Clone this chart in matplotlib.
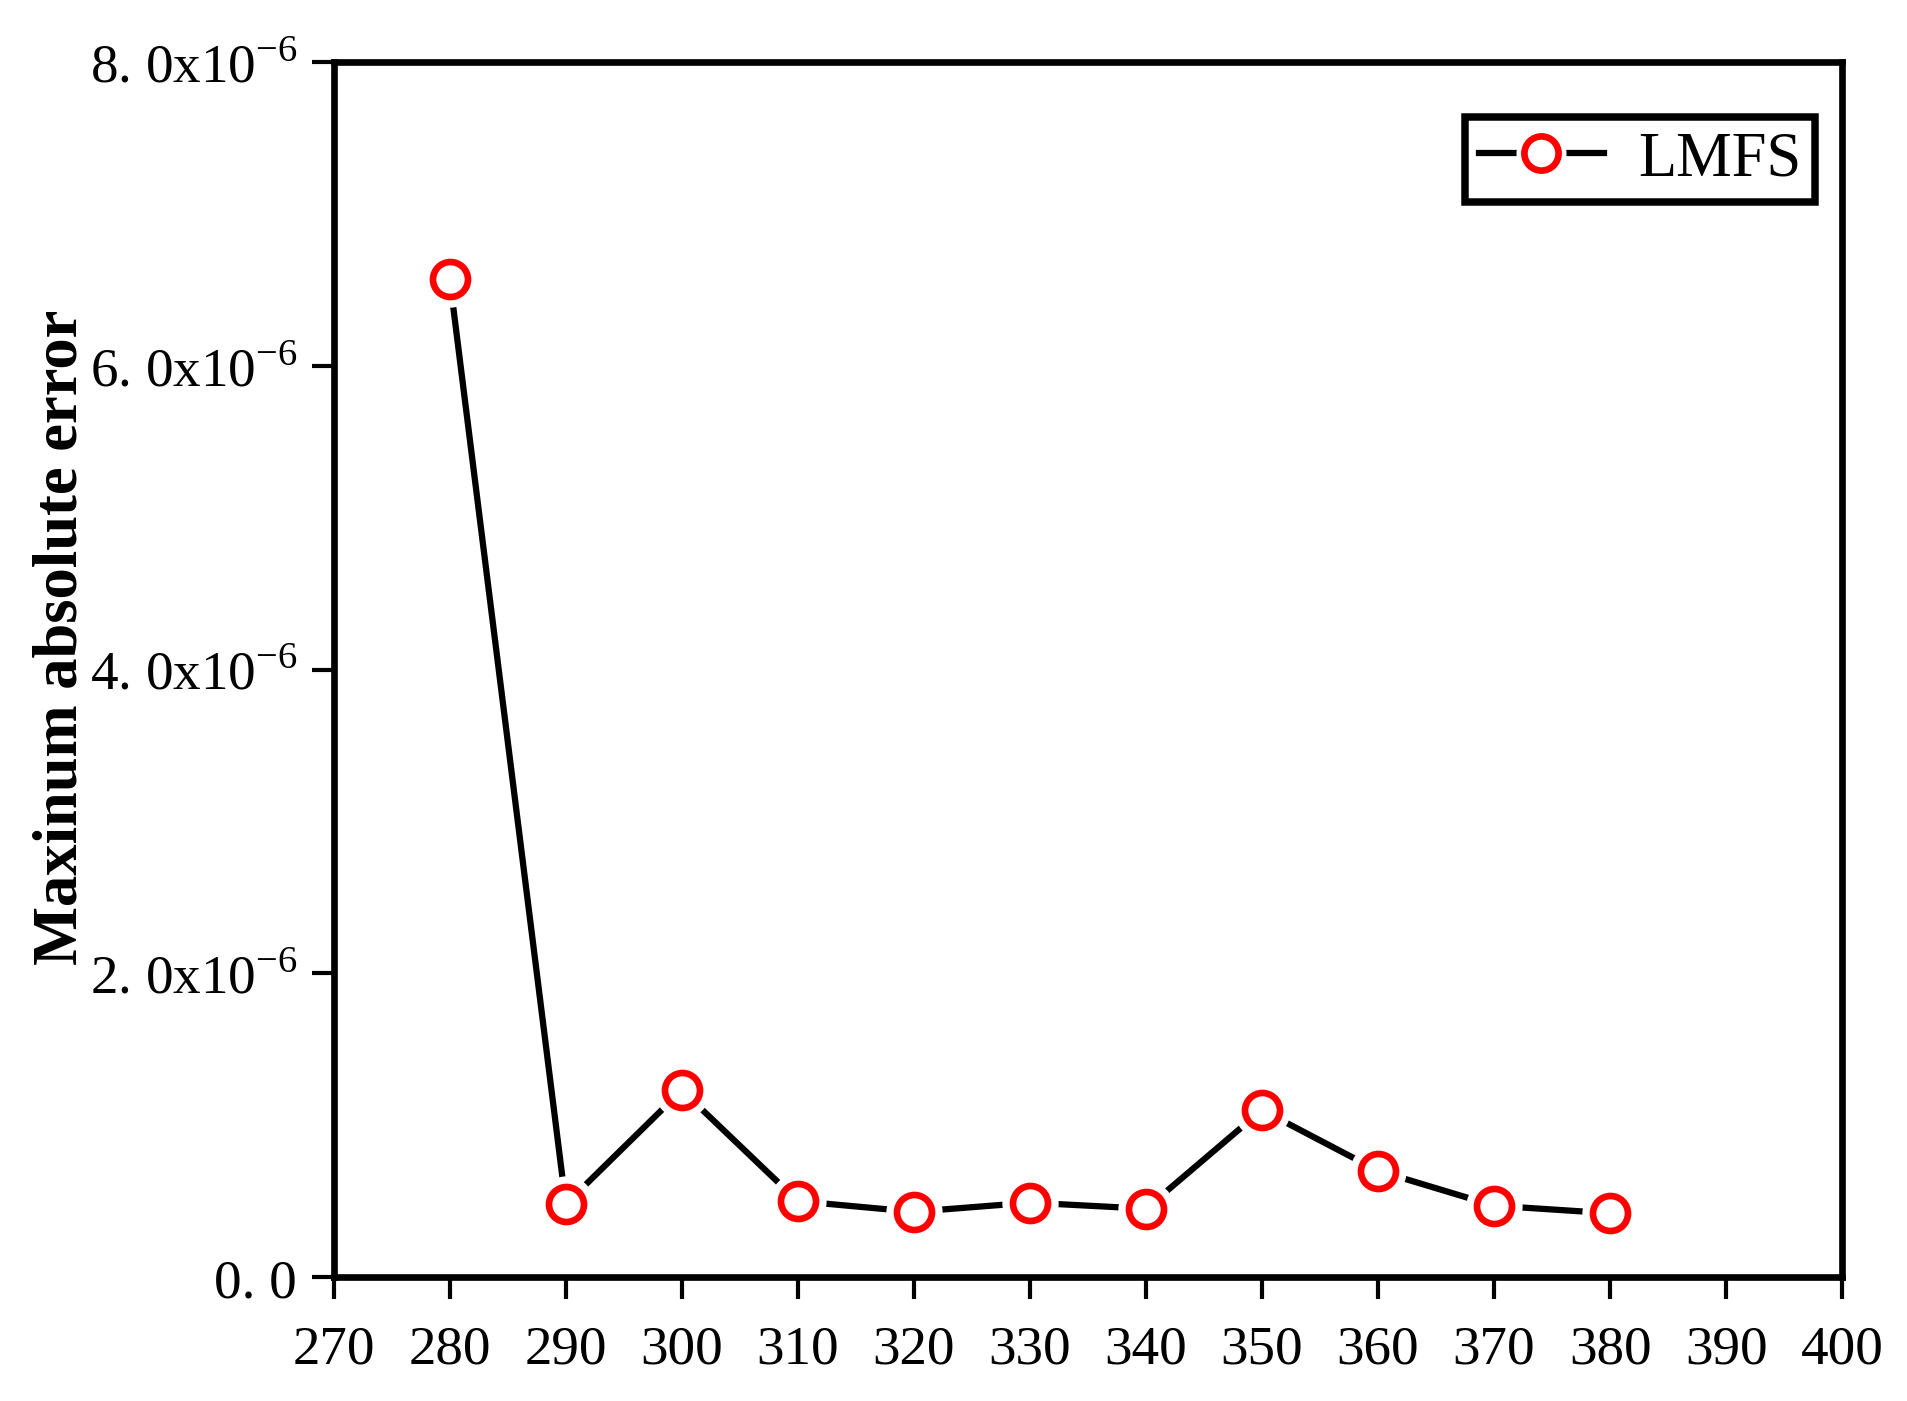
import numpy as np
import matplotlib.pyplot as plt
from matplotlib.lines import Line2D
from matplotlib.ticker import FixedLocator, FuncFormatter
from matplotlib.legend_handler import HandlerTuple

# data
nodes = [280, 290, 300, 310, 320, 330, 340, 350, 360, 370, 380]
max_err = [6.57e-6, 0.48e-6, 1.23e-6, 0.50e-6, 0.43e-6, 0.49e-6,
           0.45e-6, 1.10e-6, 0.70e-6, 0.47e-6, 0.42e-6]
x_ticks = list(range(270, 401, 10))
y_ticks = [0, 2e-6, 4e-6, 6e-6, 8e-6]

plt.rcParams['font.family'] = ['Liberation Serif', 'DejaVu Serif']
plt.rcParams['mathtext.fontset'] = 'custom'
plt.rcParams['mathtext.rm'] = 'Liberation Serif'

fig = plt.figure(figsize=(1907 / 300, 1402 / 300), dpi=300)
ax = fig.add_axes([0.175, 0.0884, 0.791, 0.8666])

# line with a gap around each marker (white halo under the red circles)
ax.plot(nodes, max_err, color='black', lw=1.5, zorder=2)
ax.plot(nodes, max_err, ls='none', marker='o', ms=9.5, mfc='white',
        mec='white', mew=4, zorder=3)
ax.plot(nodes, max_err, ls='none', marker='o', ms=8.4, mfc='white',
        mec='red', mew=1.6, zorder=4)

ax.set_xlim(270, 400)
ax.set_ylim(0, 8e-6)
ax.xaxis.set_major_locator(FixedLocator(x_ticks))
ax.yaxis.set_major_locator(FixedLocator(y_ticks))


def fmt_y(v, pos):
    if v == 0:
        return '0. 0'
    return '%.0f. 0x10$^{-6}$' % (v * 1e6)


ax.yaxis.set_major_formatter(FuncFormatter(fmt_y))

for s in ax.spines.values():
    s.set_linewidth(1.6)
ax.tick_params(direction='out', length=5.3, width=1.0, labelsize=13.2,
               top=False, right=False)
ax.tick_params(axis='x', pad=6)

ax.set_ylabel('Maxinum absolute error', fontsize=15, fontweight='bold')
ax.yaxis.set_label_coords(-0.161, 0.527)

# legend proxies
h_line = Line2D([], [], color='black', lw=1.5)
h_halo = Line2D([], [], ls='none', marker='o', ms=10, mfc='white',
                mec='white', mew=2)
h_mk = Line2D([], [], ls='none', marker='o', ms=8.2, mfc='white',
              mec='red', mew=1.6)
leg = ax.legend([(h_line, h_halo, h_mk)], ['LMFS'],
                handler_map={tuple: HandlerTuple(ndivide=1)},
                loc='upper right', fontsize=15, fancybox=False,
                edgecolor='black', framealpha=1, handlelength=2.0,
                handletextpad=0.55, borderpad=0.22, borderaxespad=0,
                bbox_to_anchor=(0.982, 0.955))
leg.get_frame().set_linewidth(1.8)

fig.savefig('out.png', dpi=300)
